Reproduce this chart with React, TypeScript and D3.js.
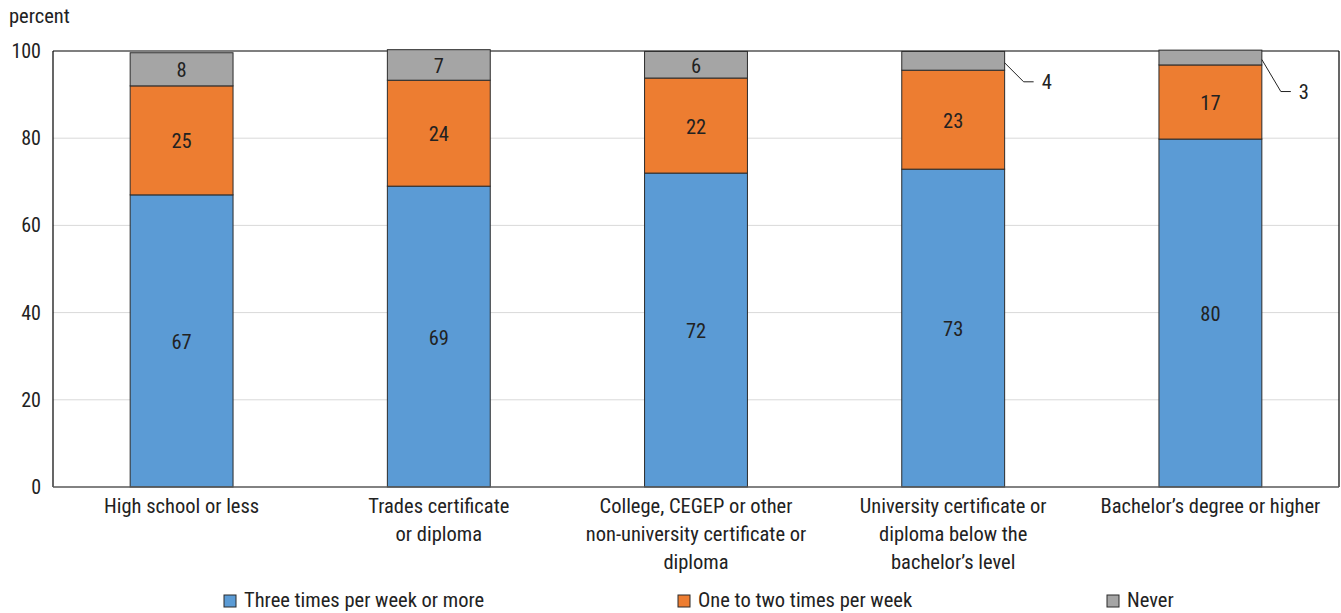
import React from "react";
import * as d3 from "d3";

const categories = [
  ["High school or less"],
  ["Trades certificate", "or diploma"],
  ["College, CEGEP or other", "non-university certificate or", "diploma"],
  ["University certificate or", "diploma below the", "bachelor\u2019s level"],
  ["Bachelor\u2019s degree or higher"],
];
const threePlus = [67, 69, 72, 72.9, 79.8];
const oneTwo = [25, 24.3, 21.8, 22.7, 17];
const never = [7.6, 7.0, 6.1, 4.3, 3.4];
const labelsThree = ["67", "69", "72", "73", "80"];
const labelsOneTwo = ["25", "24", "22", "23", "17"];
const labelsNever = ["8", "7", "6", "4", "3"];
const seriesNames = ["Three times per week or more", "One to two times per week", "Never"];
const yTicks = [0, 20, 40, 60, 80, 100];

const colors = ["#5b9bd5", "#ed7d31", "#a5a5a5"];
const FONT = "'Liberation Sans Narrow', 'Roboto Condensed', 'DejaVu Sans Condensed', sans-serif";
const FS = 20.5;

export default function App() {
  const W = 1341, H = 613;
  const left = 53, right = 1339, top = 51, bottom = 487;
  const x = d3.scaleBand<number>().domain(d3.range(categories.length)).range([left, right]).paddingInner(0.6).paddingOuter(0.3);
  const y = d3.scaleLinear().domain([0, 100]).range([bottom, top]);
  const bw = x.bandwidth();
  const series = [threePlus, oneTwo, never];
  const labels = [labelsThree, labelsOneTwo, labelsNever];

  return (
    <svg width={W} height={H} style={{ position: "absolute", left: 0, top: 0, fontFamily: FONT }}>
      <rect width={W} height={H} fill="#fff" />
      <text x={9} y={23} fontSize={FS} fill="#222">percent</text>
      {yTicks.map((t) => (
        <g key={t}>
          {t > 0 && t < 100 && <line x1={left} x2={right} y1={y(t)} y2={y(t)} stroke="#d9d9d9" strokeWidth={1} />}
          <text x={41} y={y(t) + 7} fontSize={FS - 0.5} textAnchor="end" fill="#222">{t}</text>
        </g>
      ))}
      <line x1={left} x2={right} y1={top} y2={top} stroke="#000" strokeWidth={1.2} />
      <line x1={left} x2={left} y1={top} y2={bottom} stroke="#000" strokeWidth={1.2} />
      <line x1={right} x2={right} y1={top} y2={bottom} stroke="#000" strokeWidth={1.2} />
      {categories.map((_, i) => {
        let cum = 0;
        return (
          <g key={i}>
            {series.map((s, k) => {
              const y0 = cum;
              const y1 = cum + s[i];
              cum = y1;
              const bx = x(i)!;
              const small = k === 2 && s[i] < 5;
              const mid = (y(y0) + y(y1)) / 2;
              const drop = i === 3 ? 19 : 32;
              return (
                <g key={k}>
                  <rect x={bx} y={y(y1)} width={bw} height={y(y0) - y(y1)} fill={colors[k]} stroke="#2b2b2b" strokeWidth={1} />
                  {!small && (
                    <text x={bx + bw / 2} y={mid + 8} fontSize={FS} textAnchor="middle" fill="#222">{labels[k][i]}</text>
                  )}
                  {small && (
                    <g>
                      <polyline
                        points={`${bx + bw},${mid + 2} ${bx + bw + 19},${mid + 2 + drop} ${bx + bw + 29},${mid + 2 + drop}`}
                        fill="none" stroke="#222" strokeWidth={1}
                      />
                      <text x={bx + bw + 37} y={mid + 2 + drop + 7} fontSize={FS} fill="#222">{labels[k][i]}</text>
                    </g>
                  )}
                </g>
              );
            })}
          </g>
        );
      })}
      <line x1={left} x2={right} y1={bottom} y2={bottom} stroke="#595959" strokeWidth={1.5} />
      {categories.map((lines, i) => (
        <text key={i} fontSize={FS} textAnchor="middle" fill="#222">
          {lines.map((l, j) => (
            <tspan key={j} x={x(i)! + bw / 2} y={513 + j * 28}>{l}</tspan>
          ))}
        </text>
      ))}
      {seriesNames.map((n, k) => {
        const lx = [224, 678, 1107][k];
        return (
          <g key={k}>
            <rect x={lx} y={595} width={12} height={12} fill={colors[k]} stroke="#2b2b2b" strokeWidth={1} />
            <text x={lx + 20} y={607} fontSize={FS} fill="#222">{n}</text>
          </g>
        );
      })}
    </svg>
  );
}
